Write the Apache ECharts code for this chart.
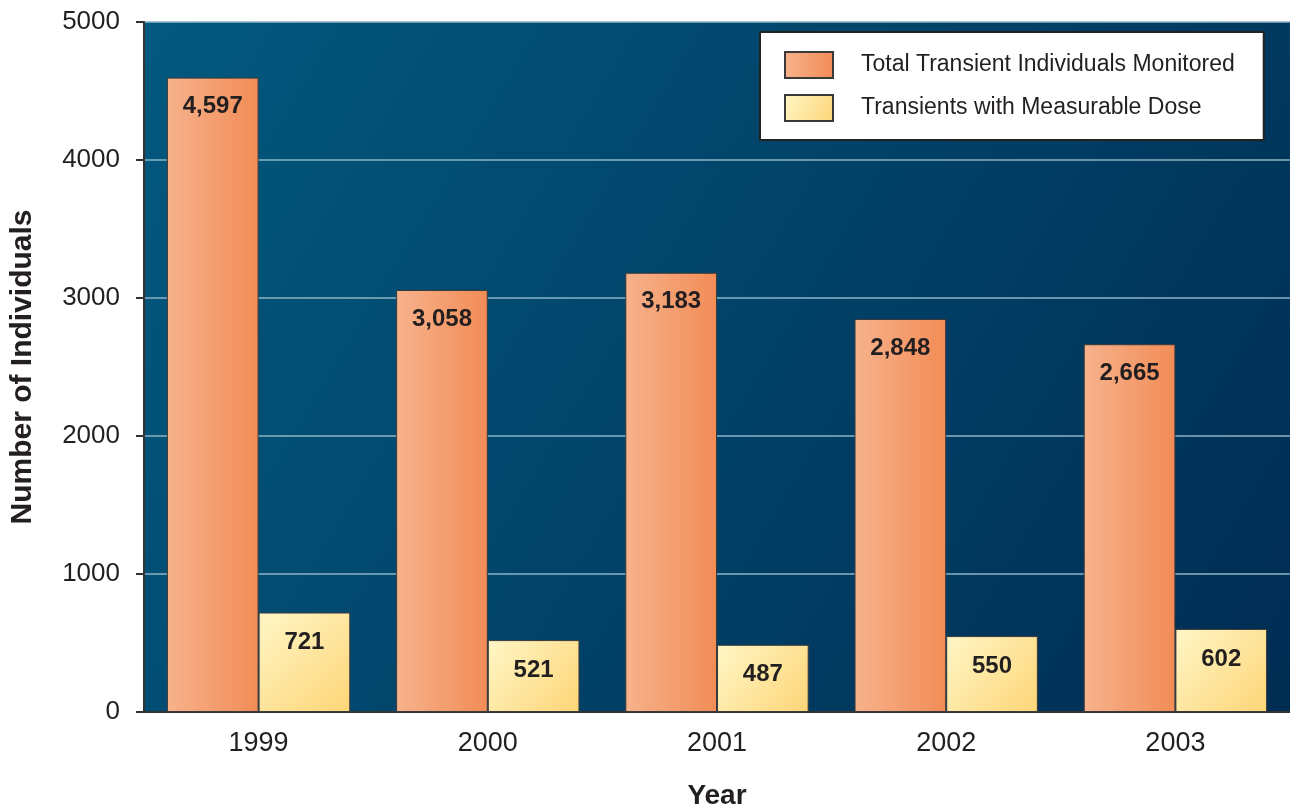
<!DOCTYPE html>
<html>
<head>
<meta charset="utf-8">
<script src="https://cdn.jsdelivr.net/npm/echarts@6/dist/echarts.min.js"></script>
<style>
html,body{margin:0;padding:0;background:#fff;}
#chart{width:1290px;height:808px;}
</style>
</head>
<body>
<div id="chart"></div>
<script>
const years = ['1999', '2000', '2001', '2002', '2003'];
const totalMonitored = [4597, 3058, 3183, 2848, 2665];
const measurableDose = [721, 521, 487, 550, 602];
const seriesNames = ['Total Transient Individuals Monitored', 'Transients with Measurable Dose'];
const yTicks = [0, 1000, 2000, 3000, 4000, 5000];

const chart = echarts.init(document.getElementById('chart'));
const txt = '#231f20';
const labelFont = "'Liberation Sans', Arial, sans-serif";
const fmt = p => p.value.toLocaleString('en-US');

chart.setOption({
  animation: false,
  textStyle: {fontFamily: "'Liberation Sans', Arial, sans-serif", color: txt},
  grid: {
    left: 144, right: 0, top: 22, bottom: 96,
    outerBoundsMode: 'none', containLabel: false,
    show: true, borderWidth: 0,
    backgroundColor: {
      type: 'linear', x: 0, y: 0, x2: 1, y2: 1,
      colorStops: [{offset: 0, color: '#03597f'}, {offset: 1, color: '#002c52'}]
    }
  },
  legend: {
    orient: 'vertical', left: 760, top: 32,
    backgroundColor: '#ffffff', borderColor: '#222', borderWidth: 2,
    padding: [19, 29, 18, 24],
    itemWidth: 48, itemHeight: 26, itemGap: 15,
    icon: 'rect',
    textStyle: {fontSize: 23, color: txt, padding: [0, 0, 0, 23]},
    data: seriesNames
  },
  xAxis: {
    type: 'category', data: years,
    name: 'Year', nameLocation: 'middle', nameGap: 70,
    nameTextStyle: {fontSize: 28, fontWeight: 'bold', color: txt},
    axisLine: {lineStyle: {color: '#333', width: 2}},
    axisTick: {length: 15, lineStyle: {color: '#333', width: 2}},
    axisLabel: {fontSize: 27, color: txt, margin: 18}
  },
  yAxis: {
    type: 'value', min: yTicks[0], max: yTicks[yTicks.length - 1], interval: 1000,
    name: 'Number of Individuals', nameLocation: 'middle', nameGap: 106,
    nameTextStyle: {fontSize: 30, fontWeight: 'bold', color: txt},
    axisLine: {show: true, lineStyle: {color: '#333', width: 2}},
    axisTick: {show: true, length: 8, lineStyle: {color: '#333', width: 2}},
    axisLabel: {fontSize: 26, color: txt, margin: 24, formatter: v => String(v)},
    splitLine: {lineStyle: {color: '#8db4c4', width: 1.5}}
  },
  series: [
    {
      name: seriesNames[0], type: 'bar', data: totalMonitored,
      barGap: '0%', barCategoryGap: '20%',
      itemStyle: {
        borderColor: '#3a3a3a', borderWidth: 1,
        color: {type: 'linear', x: 0, y: 0, x2: 1, y2: 0,
          colorStops: [{offset: 0, color: '#f7b28c'}, {offset: 1, color: '#f28c56'}]}
      },
      label: {show: true, position: 'insideTop', distance: 17, formatter: fmt,
        fontSize: 24, fontWeight: 'bold', fontFamily: labelFont, color: txt}
    },
    {
      name: seriesNames[1], type: 'bar', data: measurableDose,
      itemStyle: {
        borderColor: '#3a3a3a', borderWidth: 1,
        color: {type: 'linear', x: 0, y: 0, x2: 1, y2: 1,
          colorStops: [{offset: 0, color: '#fff6c6'}, {offset: 1, color: '#fdd577'}]}
      },
      label: {show: true, position: 'insideTop', distance: 18, formatter: fmt,
        fontSize: 24, fontWeight: 'bold', fontFamily: labelFont, color: txt}
    }
  ]
});
</script>
</body>
</html>
